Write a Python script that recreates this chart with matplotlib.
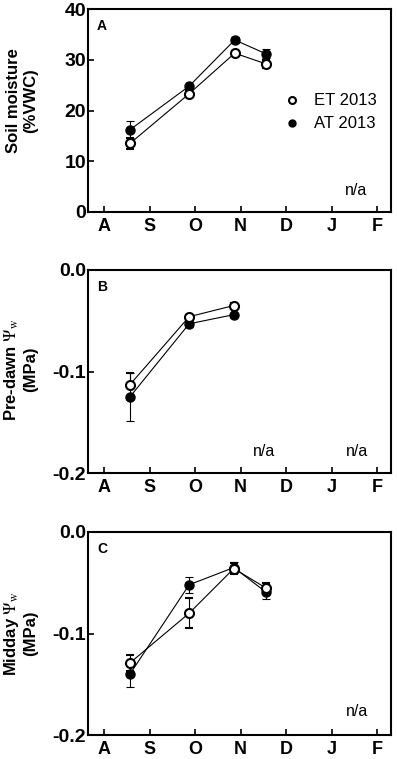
import matplotlib
matplotlib.use("Agg")
import matplotlib.pyplot as plt
import numpy as np

plt.rcParams['font.family'] = ['Liberation Sans', 'DejaVu Sans']
plt.rcParams['mathtext.fontset'] = 'stix'

months = ['A', 'S', 'O', 'N', 'D', 'J', 'F']

# panel A: soil moisture
xA = [0.57, 1.87, 2.87, 3.55]
etA = [13.5, 23.3, 31.3, 29.2]
etA_err = [1.1, 0.5, 0.5, 0.8]
atA = [16.2, 24.8, 33.9, 31.2]
atA_err = [1.7, 0.5, 0.6, 0.9]

# panel B: pre-dawn water potential
xB = [0.57, 1.87, 2.85]
etB = [-0.113, -0.046, -0.035]
etB_err = [0.012, 0.002, 0.002]
atB = [-0.125, -0.053, -0.044]
atB_err = [0.024, 0.003, 0.002]

# panel C: midday water potential
xC = [0.57, 1.87, 2.85, 3.55]
etC = [-0.129, -0.080, -0.036, -0.055]
etC_err = [0.008, 0.015, 0.005, 0.005]
atC = [-0.140, -0.052, -0.035, -0.059]
atC_err = [0.013, 0.008, 0.005, 0.007]

fig = plt.figure(figsize=(3.97, 7.59), dpi=100)
W, H = 397, 759
left, right = 88, 391
panels = [(9, 212), (270, 473), (532, 735)]
axes = []
for top, bot in panels:
    ax = fig.add_axes([left / W, 1 - bot / H, (right - left) / W, (bot - top) / H])
    axes.append(ax)

def style(ax):
    ax.set_xlim(-0.35, 6.3)
    ax.set_xticks(range(7))
    ax.set_xticklabels(months, fontsize=13, fontweight='bold')
    ax.tick_params(axis='both', direction='in', length=4, width=1.2)
    ax.tick_params(axis='x', pad=4.5)
    ax.tick_params(axis='y', pad=1.5, labelsize=14)
    for lab in ax.get_yticklabels():
        lab.set_fontweight('bold')
    for s in ax.spines.values():
        s.set_linewidth(1.5)

def draw(ax, x, et, ete, at, ate):
    ax.errorbar(x, at, yerr=ate, color='black', marker='o', ms=6.5, mfc='black', mec='black',
                lw=0.8, elinewidth=0.8, capsize=3, capthick=0.8, zorder=2)
    ax.errorbar(x, et, yerr=ete, color='black', marker='o', ms=6.5, mfc='white', mec='black',
                mew=1.5, lw=0.8, elinewidth=0.8, capsize=3, capthick=0.8, zorder=3)

def ylab(ax, text, ypos):
    ax.set_ylabel(text, fontsize=12, fontweight='bold', linespacing=1.15)
    ax.yaxis.set_label_coords(-0.165, ypos)

# A
ax = axes[0]
draw(ax, xA, etA, etA_err, atA, atA_err)
ax.set_ylim(0, 40)
ax.set_yticks([0, 10, 20, 30, 40])
style(ax)
ylab(ax, 'Soil moisture\n(%VWC)', 0.55)
ax.text(0.03, 0.95, 'A', transform=ax.transAxes, fontsize=10, fontweight='bold', va='top')
ax.text(5.53, 4.3, 'n/a', fontsize=11.5, ha='center', va='center')
ax.plot([4.12], [22.0], 'o', ms=5, mfc='white', mec='black', mew=1.5)
ax.plot([4.12], [17.5], 'o', ms=5, mfc='black', mec='black')
ax.text(4.62, 22.0, 'ET 2013', fontsize=12, va='center')
ax.text(4.62, 17.5, 'AT 2013', fontsize=12, va='center')

# B
ax = axes[1]
draw(ax, xB, etB, etB_err, atB, atB_err)
ax.set_ylim(-0.2, 0)
ax.set_yticks([-0.2, -0.1, 0.0])
ax.set_yticklabels(['-0.2', '-0.1', '0.0'])
style(ax)
ylab(ax, 'Pre-dawn $\\Psi_{\\rm w}$\n(MPa)', 0.51)
ax.text(0.03, 0.95, 'B', transform=ax.transAxes, fontsize=10, fontweight='bold', va='top')
ax.text(3.51, -0.179, 'n/a', fontsize=11.5, ha='center', va='center')
ax.text(5.55, -0.179, 'n/a', fontsize=11.5, ha='center', va='center')

# C
ax = axes[2]
draw(ax, xC, etC, etC_err, atC, atC_err)
ax.set_ylim(-0.2, 0)
ax.set_yticks([-0.2, -0.1, 0.0])
ax.set_yticklabels(['-0.2', '-0.1', '0.0'])
style(ax)
ylab(ax, 'Midday $\\Psi_{\\rm w}$\n(MPa)', 0.5)
ax.text(0.03, 0.95, 'C', transform=ax.transAxes, fontsize=10, fontweight='bold', va='top')
ax.text(5.55, -0.177, 'n/a', fontsize=11.5, ha='center', va='center')

fig.savefig('out.png', dpi=100)
